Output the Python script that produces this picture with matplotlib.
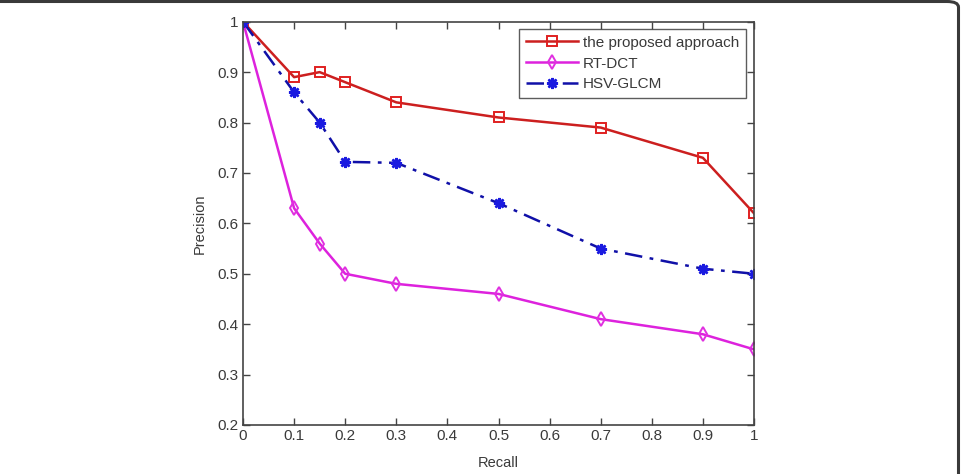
import matplotlib
matplotlib.use("Agg")
import matplotlib.pyplot as plt
from matplotlib.patches import FancyBboxPatch

recall = [0, 0.1, 0.15, 0.2, 0.3, 0.5, 0.7, 0.9, 1.0]
proposed = [1.0, 0.89, 0.90, 0.88, 0.84, 0.81, 0.79, 0.73, 0.62]
rt_dct = [1.0, 0.63, 0.56, 0.50, 0.48, 0.46, 0.41, 0.38, 0.35]
hsv_glcm = [1.0, 0.86, 0.80, 0.722, 0.72, 0.64, 0.55, 0.51, 0.50]
labels = ["the proposed approach", "RT-DCT", "HSV-GLCM"]
xticks = [0, 0.1, 0.2, 0.3, 0.4, 0.5, 0.6, 0.7, 0.8, 0.9, 1]
xticklabels = ["0", "0.1", "0.2", "0.3", "0.4", "0.5", "0.6", "0.7", "0.8", "0.9", "1"]
yticks = [0.2, 0.3, 0.4, 0.5, 0.6, 0.7, 0.8, 0.9, 1.0]
yticklabels = ["0.2", "0.3", "0.4", "0.5", "0.6", "0.7", "0.8", "0.9", "1"]

plt.rcParams['font.family'] = ['Liberation Sans', 'DejaVu Sans']
tc = '#3a3a3a'

fig = plt.figure(figsize=(9.61, 4.74), dpi=100)
# outer rounded frame (only top and right visible)
frame = FancyBboxPatch((-0.05, -0.05), 0.05 + 958.5/961, 0.05 + (474 - 1.5)/474,
                       boxstyle="round,pad=0,rounding_size=0.012",
                       transform=fig.transFigure, facecolor='none',
                       edgecolor='#3a3a3a', linewidth=2.2, clip_on=False)
fig.patches.append(frame)

ax = fig.add_axes([243/961, (474-425)/474, (754-243)/961, (425-21.7)/474])
ax.plot(recall, proposed, '-s', color='#cc1f1f', lw=1.8, ms=7.5,
        mfc='none', mec='#e02020', mew=1.4, label=labels[0])
ax.plot(recall, rt_dct, '-d', color='#dd22dd', lw=1.8, ms=7,
        mfc='none', mec='#e030e0', mew=1.4, label=labels[1])
ax.plot(recall, hsv_glcm, '-.', color='#1010a8', lw=1.8, marker=(8, 2, 0), ms=8,
        mfc='#1a1ae0', mec='#1a1ae0', mew=1.8, label=labels[2], dashes=(7, 3, 1.5, 3))

ax.set_xlim(0, 1)
ax.set_ylim(0.2, 1.0)
ax.set_xticks(xticks)
ax.set_xticklabels(xticklabels)
ax.set_yticks(yticks)
ax.set_yticklabels(yticklabels)
ax.tick_params(direction='in', length=5, width=1, colors='#444444',
               labelcolor=tc, labelsize=11, top=True, right=True, pad=3)
for s in ax.spines.values():
    s.set_color('#444444')
    s.set_linewidth(1.2)
ax.set_xlabel("Recall", fontsize=10.5, color=tc, labelpad=9)
ax.set_ylabel("Precision", fontsize=10.5, color=tc, labelpad=8)

leg = ax.legend(loc='upper right', fontsize=11, frameon=True, fancybox=False,
                edgecolor='#333333', handlelength=3.4, borderaxespad=0.2,
                labelspacing=0.45, handletextpad=0.3, borderpad=0.45,
                bbox_to_anchor=(0.99, 0.99))
leg.get_frame().set_linewidth(1.0)
for t in leg.get_texts():
    t.set_color(tc)

fig.savefig("out.png", dpi=100)
